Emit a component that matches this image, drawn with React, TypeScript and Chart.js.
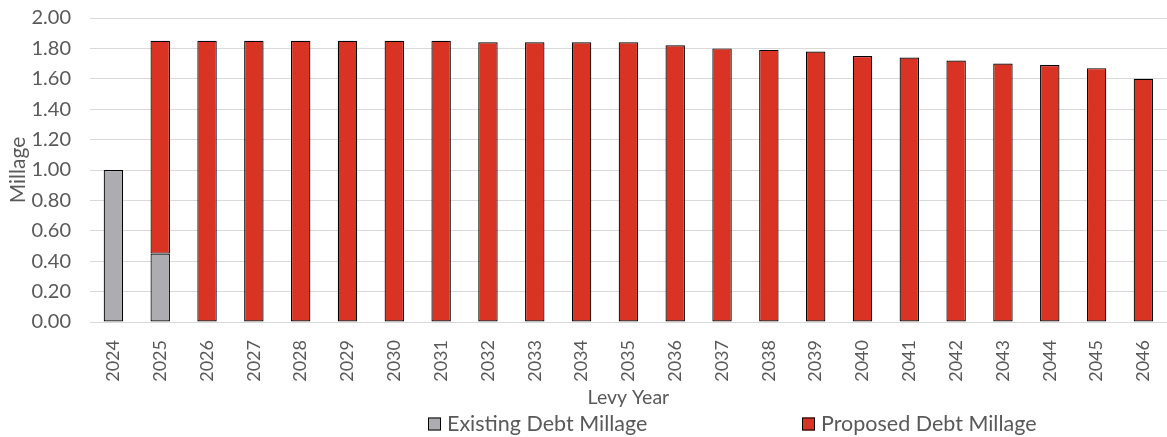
import React, { useEffect, useRef } from "react";
import { Chart, registerables } from "chart.js";

Chart.register(...registerables);

const years = ["2024","2025","2026","2027","2028","2029","2030","2031","2032","2033","2034","2035","2036","2037","2038","2039","2040","2041","2042","2043","2044","2045","2046"];
const existingDebt = [1.0, 0.45, null, null, null, null, null, null, null, null, null, null, null, null, null, null, null, null, null, null, null, null, null];
const proposedDebt = [null, 1.40, 1.85, 1.85, 1.85, 1.85, 1.85, 1.85, 1.84, 1.84, 1.84, 1.84, 1.82, 1.80, 1.79, 1.78, 1.75, 1.74, 1.72, 1.70, 1.69, 1.67, 1.60];
const yTicks = [0, 0.2, 0.4, 0.6, 0.8, 1.0, 1.2, 1.4, 1.6, 1.8, 2.0];

const FONT = "Lato, 'Open Sans', sans-serif";
const TEXT = "#595959";
const GRID = "#D9D9D9";
const GREY = "#ADADB1";
const RED = "#D93323";

const legendPlugin = {
  id: "customLegend",
  afterDraw(chart: any) {
    const ctx = chart.ctx;
    const items = chart.options.plugins.customLegend.items as { x: number }[];
    const y = chart.height - 13;
    ctx.save();
    ctx.font = `21.5px ${FONT}`;
    ctx.textBaseline = "middle";
    ctx.textAlign = "left";
    chart.data.datasets.forEach((ds: any, i: number) => {
      const x = items[i].x;
      ctx.fillStyle = ds.backgroundColor;
      ctx.fillRect(x, y - 6.5, 13, 13);
      ctx.strokeStyle = "#000";
      ctx.lineWidth = 1;
      ctx.strokeRect(x + 0.5, y - 6, 12, 12);
      ctx.fillStyle = TEXT;
      ctx.fillText(ds.label, x + 19, y);
    });
    ctx.restore();
  },
};

export default function App() {
  const ref = useRef<HTMLCanvasElement | null>(null);
  useEffect(() => {
    if (!ref.current) return;
    const chart = new Chart(ref.current, {
      type: "bar",
      data: {
        labels: years,
        datasets: [
          {
            label: "Existing Debt Millage",
            data: existingDebt,
            backgroundColor: GREY,
            borderColor: "#000",
            borderWidth: 1.2,
            borderSkipped: false,
            barPercentage: 0.415,
            categoryPercentage: 1,
          },
          {
            label: "Proposed Debt Millage",
            data: proposedDebt,
            backgroundColor: RED,
            borderColor: "#000",
            borderWidth: 1.2,
            borderSkipped: false,
            barPercentage: 0.415,
            categoryPercentage: 1,
          },
        ],
      },
      options: {
        animation: false,
        responsive: false,
        maintainAspectRatio: false,
        layout: { padding: { top: 18, bottom: 28, left: 0, right: 0 } },
        plugins: {
          legend: { display: false },
          tooltip: { enabled: false },
          customLegend: { items: [{ x: 428 }, { x: 802 }] },
        } as any,
        scales: {
          x: {
            stacked: true,
            grid: { display: false },
            border: { display: true, color: GRID, width: 1 },
            ticks: {
              color: TEXT,
              font: { family: FONT, size: 18 },
              minRotation: 90,
              maxRotation: 90,
              padding: 10,
            },
            title: {
              display: true,
              text: "Levy Year",
              color: TEXT,
              font: { family: FONT, size: 19.5 },
              padding: { top: 0, bottom: 0 },
            },
            afterFit: (s: any) => {
              s.height = 87;
            },
          },
          y: {
            stacked: true,
            min: 0,
            max: 2,
            afterBuildTicks: (s: any) => {
              s.ticks = yTicks.map((v) => ({ value: v }));
            },
            grid: { color: GRID, drawTicks: true, tickLength: 19, tickColor: "rgba(0,0,0,0)" },
            border: { display: false },
            ticks: {
              color: TEXT,
              font: { family: FONT, size: 20 },
              padding: 0,
              callback: (v: any) => Number(v).toFixed(2),
            },
            title: {
              display: true,
              text: "Millage",
              color: TEXT,
              font: { family: FONT, size: 21 },
              padding: { top: 6, bottom: 0 },
            },
            afterFit: (s: any) => {
              s.width = 90;
            },
          },
        },
      },
      plugins: [legendPlugin],
    });
    return () => chart.destroy();
  }, []);
  return (
    <div style={{ position: "fixed", left: 0, top: 0, width: 1167, height: 437, overflow: "hidden", background: "#fff" }}>
      <canvas ref={ref} width={1175} height={437} style={{ display: "block", width: 1175, height: 437 }} />
    </div>
  );
}
